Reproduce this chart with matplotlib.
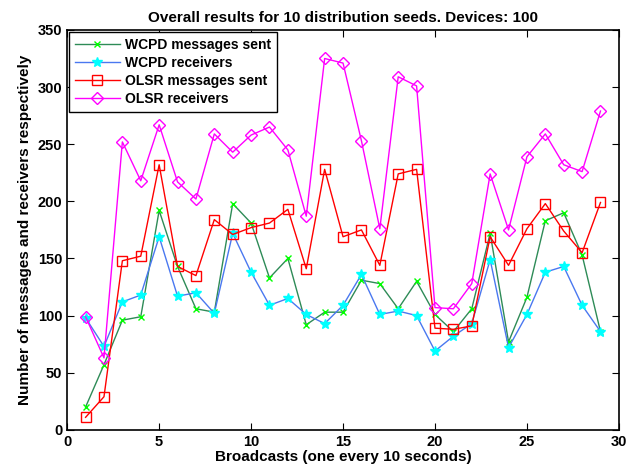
import numpy as np
import matplotlib
matplotlib.use("Agg")
import matplotlib.pyplot as plt

plt.rcParams['font.family'] = ['Liberation Sans', 'DejaVu Sans']
plt.rcParams['font.weight'] = 'bold'

broadcasts = list(range(1, 30))

wcpd_sent = [20, 57, 96, 99, 192, 143, 106, 103, 198, 181, 133, 150, 92, 103, 103,
             131, 128, 106, 130, 101, 86, 106, 172, 77, 116, 183, 190, 153, 86]
wcpd_recv = [98, 73, 112, 118, 169, 117, 120, 102, 172, 138, 109, 115, 101, 93, 109,
             136, 101, 104, 100, 69, 82, 93, 149, 72, 101, 138, 143, 109, 86]
olsr_sent = [11, 29, 148, 152, 232, 143, 135, 184, 171, 177, 181, 193, 141, 228, 169,
             175, 144, 224, 228, 89, 88, 91, 169, 144, 176, 198, 174, 155, 199]
olsr_recv = [99, 63, 252, 218, 267, 217, 202, 259, 243, 258, 265, 245, 187, 325, 321,
             253, 176, 309, 301, 107, 106, 128, 224, 175, 239, 259, 232, 226, 279]

fig = plt.figure(figsize=(6.4, 4.75), dpi=100)
ax = fig.add_axes([0.105, 0.095, 0.862, 0.842])

ax.plot(broadcasts, wcpd_sent, color='#2e8b57', lw=1, marker='x', ms=4,
        mec='#00ff00', mew=1, label='WCPD messages sent')
ax.plot(broadcasts, wcpd_recv, color='#4a78f0', lw=1, marker='*', ms=7,
        mec='#00ffff', mfc='#00ffff', mew=1, label='WCPD receivers')
ax.plot(broadcasts, olsr_sent, color='red', lw=1, marker='s', ms=7,
        mfc='none', mec='red', mew=1, label='OLSR messages sent')
ax.plot(broadcasts, olsr_recv, color='magenta', lw=1, marker='D', ms=6.5,
        mfc='none', mec='magenta', mew=1, label='OLSR receivers')

ax.set_xlim(0, 30)
ax.set_ylim(0, 350)
ax.set_xticks(range(0, 31, 5))
ax.set_yticks(range(0, 351, 50))
ax.tick_params(direction='in', top=True, right=True, labelsize=10.5, length=5)
for lab in ax.get_xticklabels() + ax.get_yticklabels():
    lab.set_fontweight('bold')
for s in ax.spines.values():
    s.set_linewidth(1.2)

ax.set_title('Overall results for 10 distribution seeds. Devices: 100',
             fontsize=11, fontweight='bold', pad=6)
ax.set_xlabel('Broadcasts (one every 10 seconds)', fontsize=11, fontweight='bold', labelpad=1)
ax.set_ylabel('Number of messages and receivers respectively', fontsize=11,
              fontweight='bold', labelpad=4)

leg = ax.legend(loc='upper left', handlelength=3.25, handletextpad=0.35,
                borderpad=0.4, borderaxespad=0.15,
                fancybox=False, edgecolor='black', framealpha=1, labelspacing=0.3,
                prop={'weight': 'bold', 'size': 10})
leg.get_frame().set_linewidth(1)

fig.savefig('out.png', dpi=100)
